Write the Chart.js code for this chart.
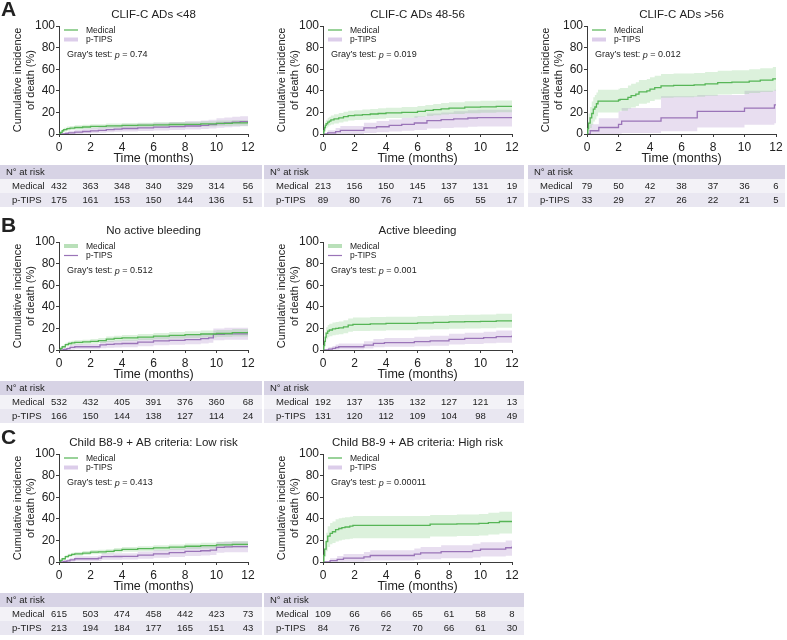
<!DOCTYPE html>
<html><head><meta charset="utf-8">
<script src="https://cdn.jsdelivr.net/npm/chart.js@4.4.1/dist/chart.umd.min.js"></script>
<style>
body{margin:0;background:#fff;width:787px;height:640px;position:relative;overflow:hidden}
canvas{position:absolute;display:block}
</style></head><body>
<canvas id="cA1" width="264" height="212" style="left:0;top:0"></canvas>
<canvas id="cA2" width="262" height="212" style="left:264px;top:0"></canvas>
<canvas id="cA3" width="259" height="212" style="left:528px;top:0"></canvas>
<canvas id="cB1" width="264" height="212" style="left:0;top:216px"></canvas>
<canvas id="cB2" width="262" height="212" style="left:264px;top:216px"></canvas>
<canvas id="cC1" width="264" height="212" style="left:0;top:428px"></canvas>
<canvas id="cC2" width="262" height="212" style="left:264px;top:428px"></canvas>
<script>
// ---------- DATA ----------
const timeTicks = [0, 2, 4, 6, 8, 10, 12];
const groupNames = ['Medical', 'p-TIPS'];
const panelTitles = ['CLIF-C ADs <48', 'CLIF-C ADs 48-56', 'CLIF-C ADs >56', 'No active bleeding', 'Active bleeding', 'Child B8-9 + AB criteria: Low risk', 'Child B8-9 + AB criteria: High risk'];
const pValues = ['0.74', '0.019', '0.012', '0.512', '0.001', '0.413', '0.00011'];

// A1: CLIF-C ADs <48
const a1MedT  = [0,0.1,0.2,0.3,0.5,0.7,1,1.5,2,3,4,5,6,7,8,9,10,11,12];
const a1MedV  = [0,1.5,3,4,5,5.5,6,6.5,7,7.5,8,8.2,8.5,8.8,9,9.3,9.8,10.3,11];
const a1MedLo = [0,0.5,1.5,2.4,3.2,3.7,4.1,4.6,5,5.4,5.9,6,6.3,6.5,6.7,6.9,7.3,7.7,8.2];
const a1MedHi = [0,2.6,4.6,5.7,6.9,7.4,8,8.5,9.1,9.7,10.2,10.5,10.8,11.1,11.4,11.8,12.4,13,13.9];
const a1PtT   = [0,0.4,0.6,1,1.5,2,2.5,3,3.5,4,5,6,7,8,9,9.5,10,10.5,11,11.5,12];
const a1PtV   = [0,0.6,1.1,1.7,2.3,2.9,3.4,4,4.6,5.1,5.7,6.3,6.9,7.4,8,8.6,9.7,10.3,10.9,11.4,12];
const a1PtLo  = [0,0,0,0.1,0.4,0.8,1.2,1.6,2,2.4,2.8,3.3,3.7,4.1,4.6,5,5.8,6.2,6.7,7.1,7.6];
const a1PtHi  = [0,1.8,2.9,3.9,4.9,5.8,6.6,7.4,8.2,8.9,9.7,10.4,11.1,11.8,12.5,13.2,14.6,15.3,15.9,16.5,17.2];
const a1RiskMed = [432,363,348,340,329,314,56];
const a1RiskPt  = [175,161,153,150,144,136,51];

// A2: CLIF-C ADs 48-56
const a2MedT  = [0,0.05,0.1,0.15,0.2,0.3,0.4,0.5,0.7,1,1.3,1.6,2,2.5,3,3.5,4,5,6,6.5,7,7.5,8,9,10,11,12];
const a2MedV  = [0,3,6,8,9.5,11,12,13,14,15,16,17,17.5,18,18.5,19,19.5,20,21,21.8,22.5,23.3,24,24.8,25.2,25.6,26];
const a2MedLo = [0,1,3,4.5,5.8,7,8,8.8,9.7,10.6,11.5,12.4,12.9,13.3,13.8,14.2,14.7,15.1,16,16.7,17.3,18,18.6,19.3,19.7,20.1,20.4];
const a2MedHi = [0,5,9,11.5,13.2,15,16,17.2,18.3,19.4,20.5,21.6,22.1,22.7,23.2,23.8,24.3,24.9,26,26.9,27.7,28.6,29.4,30.3,30.7,31.1,31.6];
const a2PtT   = [0,0.3,0.8,1.1,2.6,3.4,4.2,5,5.8,6.6,7.5,8.3,9.2,9.8,12];
const a2PtV   = [0,1.1,2.2,3.4,5.6,6.7,7.9,9,10.2,12.3,13.3,14,14.8,15.2,15.2];
const a2PtLo  = [0,0,0,0,1,1.6,2.2,2.9,3.6,5,5.6,6.1,6.6,7,7];
const a2PtHi  = [0,3.5,5.5,7.5,10.5,12,13.5,15,16.5,19,20,21,22,22.5,22.5];
const a2RiskMed = [213,156,150,145,137,131,19];
const a2RiskPt  = [89,80,76,71,65,55,17];

// A3: CLIF-C ADs >56
const a3MedT  = [0,0.05,0.1,0.2,0.3,0.4,0.5,0.6,0.7,2,2.1,2.6,2.8,3.1,3.3,3.8,4,4.3,4.7,5.5,6.8,7.5,8.3,9.2,10.3,11,11.8,12];
const a3MedV  = [0,5,10,15,19,23,25,28,30.5,31.5,32,34,35.5,37,39,40,41.5,43,44.5,45,45.5,46.5,47.5,48,49,49.8,51,51];
const a3MedLo = [0,0.5,2.5,5.5,8.5,11.5,13.5,16.5,20,21,21.5,23.5,24.5,26,28,29,30.5,32,33.5,34,34.5,35.5,36.5,37,38,38.8,40,40];
const a3MedHi = [0,12,19,25,30,34,36,38.5,41,42,42.5,45,46.5,48,50,51,52.5,54,55.5,56,56.5,57.5,58.5,59,60,60.8,62,62];
const a3PtT   = [0,0.2,0.75,2,2.2,4.7,7,10,11.9,12];
const a3PtV   = [0,3,6,9,12,15,21,24,27,27];
const a3PtLo  = [0,0,0,0.3,1,2.5,6,8.5,10,10];
const a3PtHi  = [0,9,14.5,21,24,35,36,40,41,41];
const a3RiskMed = [79,50,42,38,37,36,6];
const a3RiskPt  = [33,29,27,26,22,21,5];

// B1: No active bleeding
const b1MedT  = [0,0.1,0.2,0.4,0.6,0.8,1,1.5,2,2.5,3,3.5,4,5,6,7,8,9,10,11,12];
const b1MedV  = [0,1.5,3,5,6,6.6,7,7.5,8,8.7,10,10.7,11.2,12,12.8,13.6,14.3,14.8,15.3,16,16.8];
const b1MedLo = [0,0.7,1.8,3.4,4.2,4.7,5,5.4,5.8,6.4,7.5,8.1,8.5,9.2,9.9,10.6,11.2,11.6,12,12.6,13.3];
const b1MedHi = [0,2.3,4.2,6.6,7.8,8.5,9,9.6,10.2,11,12.5,13.3,13.9,14.8,15.7,16.6,17.4,18,18.6,19.4,20.3];
const b1PtT   = [0,0.3,0.5,0.7,1,2.4,2.6,3,3.5,4,5,6,7,8,9,9.5,9.8,10.5,11,12];
const b1PtV   = [0,0.6,1.2,2.4,3,3,4.8,5.2,5.6,6,7.2,8.4,9,9.6,10.5,11.2,14.4,15,15,15.6];
const b1PtLo  = [0,0,0,0.3,0.6,0.6,1.7,2,2.3,2.6,3.5,4.4,4.9,5.3,6,6.6,9,9.5,9.5,10];
const b1PtHi  = [0,1.9,3,4.8,5.6,5.6,7.9,8.4,8.9,9.4,10.9,12.4,13.1,13.9,15,15.8,19.8,20.5,20.5,21.2];
const b1RiskMed = [532,432,405,391,376,360,68];
const b1RiskPt  = [166,150,144,138,127,114,24];

// B2: Active bleeding
const b2MedT  = [0,0.05,0.1,0.15,0.2,0.3,0.4,0.6,0.8,1,1.3,1.6,1.9,3,4,6,7,8,9,10,11,12];
const b2MedV  = [0,4,8,12,15.5,17.5,18.5,19.5,20,20.5,21.5,23,23.8,24.2,24.6,25.2,25.5,26,26.2,26.5,27,27.6];
const b2MedLo = [0,1.3,4,7,10,11.8,12.7,13.6,14.1,14.5,15.4,16.8,17.5,17.9,18.3,18.9,19.2,19.6,19.8,20.1,20.5,21.1];
const b2MedHi = [0,6.7,12,17,21,23.2,24.3,25.4,25.9,26.5,27.6,29.2,30.1,30.5,30.9,31.5,31.8,32.4,32.6,32.9,33.5,34.1];
const b2PtT   = [0,0.35,0.6,0.8,1,2.4,2.6,3.2,3.9,5.8,6.8,8,9,10.2,11,12];
const b2PtV   = [0,0.8,1.5,2.3,3,3,4.6,6.1,6.9,7.7,8.4,9.9,10.7,11.5,12.3,13.5];
const b2PtLo  = [0,0,0,0.2,0.5,0.5,1.5,2.5,3,3.5,4,5,5.6,6.2,6.8,7.8];
const b2PtHi  = [0,2.6,3.8,5,6,6,8.2,10.2,11.2,12.2,13.1,15,16,17,18,19.5];
const b2RiskMed = [192,137,135,132,127,121,13];
const b2RiskPt  = [131,120,112,109,104,98,49];

// C1: Low risk
const c1MedT  = [0,0.1,0.2,0.4,0.6,0.8,1,1.5,2,2.5,3,3.5,4,5,6,7,8,9,10,11,12];
const c1MedV  = [0,1.5,3,5,6.2,7,7.6,8.3,9.1,9.4,9.8,10.8,11.6,12.3,13.1,13.8,14.6,15.2,15.9,16.3,16.8];
const c1MedLo = [0,0.8,2,3.7,4.7,5.4,5.9,6.5,7.2,7.4,7.8,8.7,9.4,10,10.7,11.3,12,12.5,13.1,13.4,13.8];
const c1MedHi = [0,2.2,4,6.3,7.7,8.6,9.3,10.1,11,11.4,11.8,12.9,13.8,14.6,15.5,16.3,17.2,17.9,18.7,19.2,19.8];
const c1PtT   = [0,0.3,0.5,0.7,1,2.5,2.7,3,3.5,4,5,6,7,8,9,9.6,10,10.5,11,12];
const c1PtV   = [0,0.5,1,2,3,3.5,5,5,5.1,5.2,6.4,7.6,8.6,9.8,10.4,11,13.5,14,14.2,14.6];
const c1PtLo  = [0,0,0,0.3,0.7,1,2,2,2.1,2.2,3,3.9,4.6,5.5,6,6.5,8.5,9,9.1,9.4];
const c1PtHi  = [0,1.7,2.6,3.9,5.3,6,8,8,8.1,8.2,9.8,11.3,12.6,14.1,14.8,15.5,18.5,19,19.3,19.8];
const c1RiskMed = [615,503,474,458,442,423,73];
const c1RiskPt  = [213,194,184,177,165,151,43];

// C2: High risk
const c2MedT  = [0,0.05,0.1,0.2,0.3,0.45,0.6,0.8,1,1.2,1.4,1.7,1.9,6.8,8.5,9.9,10.5,11.2,12];
const c2MedV  = [0,6,12,19,24,26.5,28,30,31,31.8,32.4,33.3,34,35,35.3,35.8,36.5,37.5,37.8];
const c2MedLo = [0,1.5,5,10,14,16.5,17.5,19,20,20.5,21,21.5,22,23.5,24,24.5,25.5,26.5,27];
const c2MedHi = [0,11,19,27,33,36,37.5,39.5,40.5,41,41.5,42,42.5,43.5,44,44.5,45.5,46.5,47];
const c2PtT   = [0,0.45,0.9,1.3,2.6,3,5.8,6.2,7.5,9.5,10,11.6,12];
const c2PtV   = [0,1.2,2.4,3.6,4.8,6,7.2,8.4,9.6,10.8,12,13.2,14.4];
const c2PtLo  = [0,0,0,0.3,0.8,1.4,2,2.6,3.4,4.2,5,5.8,6.6];
const c2PtHi  = [0,3.5,5.6,7.5,9.2,10.8,12.4,14,15.5,17,18.4,19.8,21.2];
const c2RiskMed = [109,66,66,65,61,58,8];
const c2RiskPt  = [84,76,72,70,66,61,30];

// ---------- DRAWING ----------
const FONT = '"Liberation Sans", Arial, sans-serif';
const TXT = '#222';
const AXIS = '#3a3a3a';
const GREEN = '#56b556';
const GREEN_BAND = 'rgba(120,200,120,0.26)';
const GREEN_LEG = '#b9e0b9';
const PURPLE = '#9a74b8';
const PURPLE_BAND = 'rgba(180,145,205,0.30)';
const PURPLE_LEG = '#dccdea';

const PLOT_RIGHT = 248, TABLE_TOP = 165, ROW_H = 14, X_AXIS_H = 33, Y_AXIS_W = 59, PLOT_TOP = 26, PLOT_BOTTOM = 134;

function pts(t, v) { return t.map((x, i) => ({x: x, y: v[i]})); }

function panel(id, idx, letter, thick, s) {
  const canvas = document.getElementById(id);
  const W = canvas.width, H = canvas.height;
  const line = (d, c) => ({data: d, borderColor: c, borderWidth: 1.3, stepped: true, pointRadius: 0, fill: false});
  const band = (d, c, f) => ({data: d, borderColor: 'rgba(0,0,0,0)', borderWidth: 0, stepped: true, pointRadius: 0, fill: f, backgroundColor: c});
  const textPlugin = {
    id: 'txt' + idx,
    afterDraw(chart) {
      const ctx = chart.ctx, a = chart.chartArea, xs = chart.scales.x;
      ctx.save();
      ctx.fillStyle = TXT;
      ctx.textBaseline = 'middle';
      // title
      ctx.font = '11.5px ' + FONT;
      ctx.textAlign = 'center';
      ctx.fillText(panelTitles[idx], (a.left + a.right) / 2, 15);
      // panel letter
      if (letter) {
        ctx.font = 'bold 21px ' + FONT;
        ctx.textAlign = 'left';
        ctx.fillText(letter, 1, 10);
      }
      // legend
      const lx = a.left + 5;
      const rows = [[groupNames[0], GREEN, GREEN_LEG, thick === 'med'], [groupNames[1], PURPLE, PURPLE_LEG, thick === 'pt']];
      rows.forEach((r, i) => {
        const y = a.top + 4 + i * 9.5;
        ctx.beginPath();
        ctx.moveTo(lx, y); ctx.lineTo(lx + 14, y);
        ctx.strokeStyle = r[3] ? r[2] : r[1];
        ctx.lineWidth = r[3] ? 4 : 1.2;
        ctx.stroke();
        ctx.fillStyle = TXT;
        ctx.font = '8.5px ' + FONT;
        ctx.textAlign = 'left';
        ctx.fillText(r[0], lx + 22, y + 0.5);
      });
      // Gray's test
      let gx = a.left + 8; const gy = a.top + 29;
      ctx.font = '9px ' + FONT;
      const s1 = 'Gray\u2019s test: ';
      ctx.fillText(s1, gx, gy); gx += ctx.measureText(s1).width;
      ctx.font = 'italic 9px ' + FONT;
      ctx.fillText('p', gx, gy); gx += ctx.measureText('p').width;
      ctx.font = '9px ' + FONT;
      ctx.fillText(' = ' + pValues[idx], gx, gy);
      // risk table
      const tr = W - 2;
      ctx.fillStyle = '#d7d3e5'; ctx.fillRect(0, TABLE_TOP, tr, ROW_H);
      ctx.fillStyle = '#f3f2f7'; ctx.fillRect(0, TABLE_TOP + ROW_H, tr, ROW_H);
      ctx.fillStyle = '#e9e7f1'; ctx.fillRect(0, TABLE_TOP + 2 * ROW_H, tr, ROW_H);
      ctx.fillStyle = TXT;
      ctx.font = '9.5px ' + FONT;
      ctx.textAlign = 'left';
      ctx.fillText('N\u00b0 at risk', 6, TABLE_TOP + ROW_H / 2 + 0.5);
      [s.riskMed, s.riskPt].forEach((vals, r) => {
        const y = TABLE_TOP + ROW_H * (r + 1) + ROW_H / 2 + 0.5;
        ctx.textAlign = 'left';
        ctx.fillText(groupNames[r], 12, y);
        ctx.textAlign = 'center';
        vals.forEach((v, i) => ctx.fillText(String(v), xs.getPixelForValue(timeTicks[i]), y));
      });
      ctx.restore();
    }
  };
  const tickFont = {size: 12, family: FONT};
  new Chart(canvas, {
    type: 'line',
    data: {datasets: [
      line(pts(s.medT, s.medV), GREEN),
      line(pts(s.ptT, s.ptV), PURPLE),
      band(pts(s.medT, s.medLo), 'rgba(0,0,0,0)', false),
      band(pts(s.medT, s.medHi), GREEN_BAND, 2),
      band(pts(s.ptT, s.ptLo), 'rgba(0,0,0,0)', false),
      band(pts(s.ptT, s.ptHi), PURPLE_BAND, 4)
    ]},
    options: {
      responsive: false, animation: false, devicePixelRatio: 1,
      layout: {padding: {left: 0, right: W - PLOT_RIGHT, top: PLOT_TOP, bottom: H - PLOT_BOTTOM - X_AXIS_H}},
      plugins: {legend: {display: false}, tooltip: {enabled: false}, title: {display: false}},
      scales: {
        x: {
          type: 'linear', min: 0, max: 12,
          ticks: {stepSize: 2, color: TXT, font: tickFont, padding: 3.5, maxRotation: 0, autoSkip: false},
          grid: {drawOnChartArea: false, drawTicks: true, tickLength: 3, color: AXIS},
          border: {display: true, color: AXIS, width: 1},
          title: {display: true, text: 'Time (months)', color: TXT, font: {size: 12.5, family: FONT}, padding: {top: 0, bottom: 1}},
          afterFit(sc) { sc.height = X_AXIS_H; }
        },
        y: {
          min: 0, max: 100,
          ticks: {stepSize: 20, color: TXT, font: tickFont, padding: 1},
          grid: {drawOnChartArea: false, drawTicks: true, tickLength: 3, color: AXIS},
          border: {display: true, color: AXIS, width: 1},
          title: {display: true, text: ['Cumulative incidence', 'of death (%)'], color: TXT, font: {size: 11, family: FONT}, padding: {top: 11.4, bottom: 0}},
          afterFit(sc) { sc.width = Y_AXIS_W; }
        }
      }
    },
    plugins: [textPlugin]
  });
}

panel('cA1', 0, 'A', 'pt',  {medT: a1MedT, medV: a1MedV, medLo: a1MedLo, medHi: a1MedHi, ptT: a1PtT, ptV: a1PtV, ptLo: a1PtLo, ptHi: a1PtHi, riskMed: a1RiskMed, riskPt: a1RiskPt});
panel('cA2', 1, null, 'pt', {medT: a2MedT, medV: a2MedV, medLo: a2MedLo, medHi: a2MedHi, ptT: a2PtT, ptV: a2PtV, ptLo: a2PtLo, ptHi: a2PtHi, riskMed: a2RiskMed, riskPt: a2RiskPt});
panel('cA3', 2, null, 'pt', {medT: a3MedT, medV: a3MedV, medLo: a3MedLo, medHi: a3MedHi, ptT: a3PtT, ptV: a3PtV, ptLo: a3PtLo, ptHi: a3PtHi, riskMed: a3RiskMed, riskPt: a3RiskPt});
panel('cB1', 3, 'B', 'med', {medT: b1MedT, medV: b1MedV, medLo: b1MedLo, medHi: b1MedHi, ptT: b1PtT, ptV: b1PtV, ptLo: b1PtLo, ptHi: b1PtHi, riskMed: b1RiskMed, riskPt: b1RiskPt});
panel('cB2', 4, null, 'med', {medT: b2MedT, medV: b2MedV, medLo: b2MedLo, medHi: b2MedHi, ptT: b2PtT, ptV: b2PtV, ptLo: b2PtLo, ptHi: b2PtHi, riskMed: b2RiskMed, riskPt: b2RiskPt});
panel('cC1', 5, 'C', 'pt',  {medT: c1MedT, medV: c1MedV, medLo: c1MedLo, medHi: c1MedHi, ptT: c1PtT, ptV: c1PtV, ptLo: c1PtLo, ptHi: c1PtHi, riskMed: c1RiskMed, riskPt: c1RiskPt});
panel('cC2', 6, null, 'pt', {medT: c2MedT, medV: c2MedV, medLo: c2MedLo, medHi: c2MedHi, ptT: c2PtT, ptV: c2PtV, ptLo: c2PtLo, ptHi: c2PtHi, riskMed: c2RiskMed, riskPt: c2RiskPt});
</script>
</body></html>
